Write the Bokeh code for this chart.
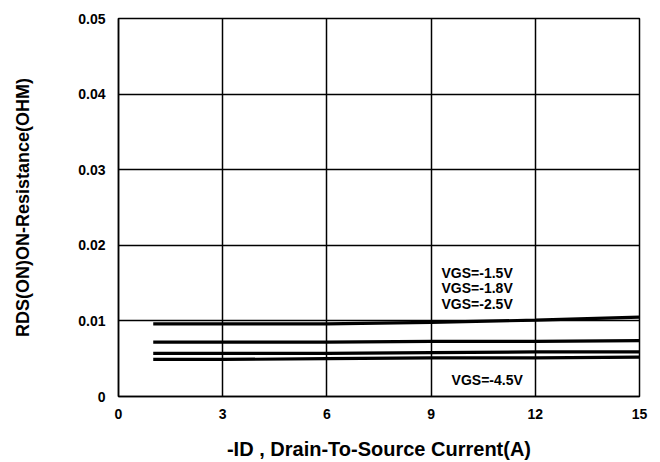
from bokeh.plotting import figure
from bokeh.models import FixedTicker, Label
from bokeh.embed import file_html
from bokeh.resources import INLINE

# Data
current = [1, 3, 6, 9, 12, 15]
r_vgs_1_5 = [0.0096, 0.0096, 0.0096, 0.0098, 0.0101, 0.0105]
r_vgs_1_8 = [0.0072, 0.0072, 0.0072, 0.0073, 0.0073, 0.0074]
r_vgs_2_5 = [0.0057, 0.0057, 0.0057, 0.0058, 0.0059, 0.0059]
r_vgs_4_5 = [0.0049, 0.0049, 0.0050, 0.0051, 0.0051, 0.0052]

x_ticks = [0, 3, 6, 9, 12, 15]
y_ticks = [0, 0.01, 0.02, 0.03, 0.04, 0.05]
y_tick_labels = ["0", "0.01", "0.02", "0.03", "0.04", "0.05"]

top_labels = ["VGS=-1.5V", "VGS=-1.8V", "VGS=-2.5V"]
bottom_label = "VGS=-4.5V"

FONT = "Liberation Sans"

p = figure(width=660, height=462, output_backend="svg", toolbar_location=None,
           x_range=(0, 15), y_range=(0, 0.05),
           min_border_left=118, min_border_right=21, min_border_top=18, min_border_bottom=64)
p.background_fill_color = "white"
p.border_fill_color = "white"
p.outline_line_color = "black"
p.outline_line_width = 1.5

for ys in [r_vgs_1_5, r_vgs_1_8, r_vgs_2_5, r_vgs_4_5]:
    p.line(current, ys, line_color="black", line_width=3.2)

p.xaxis.ticker = FixedTicker(ticks=x_ticks)
p.yaxis.ticker = FixedTicker(ticks=y_ticks)
p.yaxis.major_label_overrides = {t: s for t, s in zip(y_ticks, y_tick_labels)}
p.xaxis.major_label_overrides = {t: str(t) for t in x_ticks}

for ax in [p.xaxis[0], p.yaxis[0]]:
    ax.major_tick_in = 0
    ax.major_tick_out = 0
    ax.minor_tick_in = 0
    ax.minor_tick_out = 0
    ax.axis_line_color = "black"
    ax.axis_line_width = 1.5
    ax.major_label_text_font = FONT
    ax.major_label_text_font_style = "bold"
    ax.major_label_text_font_size = "14px"
    ax.major_label_text_color = "black"
    ax.axis_label_text_font = FONT
    ax.axis_label_text_font_style = "bold"
    ax.axis_label_text_color = "black"

p.xaxis.major_label_standoff = 12
p.yaxis.major_label_standoff = 13
p.xaxis.axis_label = "-ID , Drain-To-Source Current(A)"
p.xaxis.axis_label_text_font_size = "20px"
p.xaxis.axis_label_standoff = 16
p.yaxis.axis_label = "RDS(ON)ON-Resistance(OHM)"
p.yaxis.axis_label_text_font_size = "18px"
p.yaxis.axis_label_standoff = 42

p.xgrid.ticker = FixedTicker(ticks=x_ticks)
p.ygrid.ticker = FixedTicker(ticks=y_ticks)
p.grid.grid_line_color = "black"
p.grid.grid_line_width = 1.5
p.grid.grid_line_alpha = 1.0

for i, t in enumerate(top_labels):
    p.add_layout(Label(x=9.3, y=0.01636 - i * 0.00203, text=t, text_font=FONT,
                       text_font_style="bold", text_font_size="14px",
                       text_color="black", text_baseline="middle"))
p.add_layout(Label(x=9.59, y=0.00217, text=bottom_label, text_font=FONT,
                   text_font_style="bold", text_font_size="14px",
                   text_color="black", text_baseline="middle"))

open("out.html", "w").write(file_html(p, INLINE))
